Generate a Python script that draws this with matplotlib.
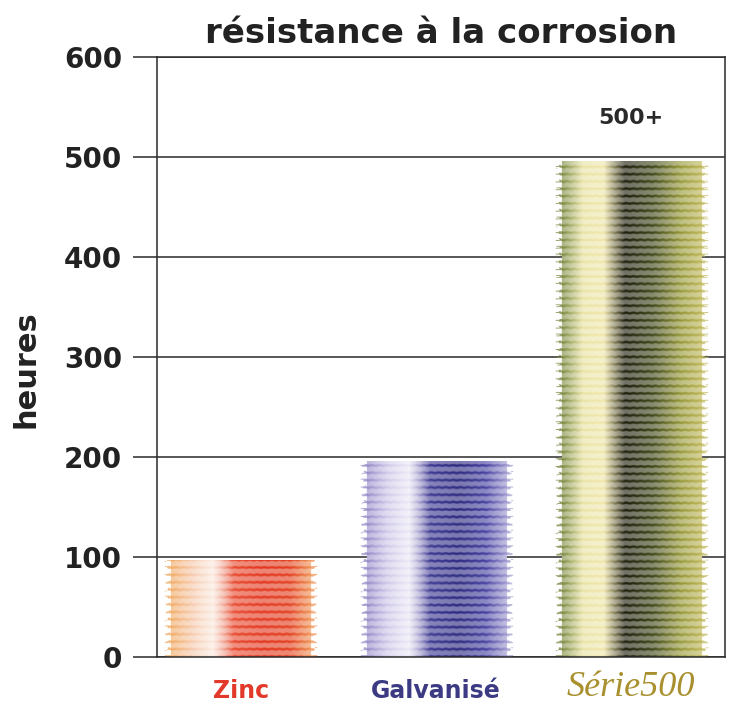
import numpy as np
import matplotlib.pyplot as plt
from matplotlib.colors import to_rgb

# Données
categories = ['Zinc', 'Galvanisé', 'Série500']
heures = [96, 195, 495]
annotation = '500+'
yticks = [0, 100, 200, 300, 400, 500, 600]

# Couleurs des étiquettes et dégradés des barres (style)
label_colors = ['#e2392b', '#3b3a82', '#a8902e']
gradients = [
    ['#f0a050', '#f4b890', '#f8dccc', '#e84a30', '#e3371f', '#e3401f', '#ee8a45'],
    ['#8070bc', '#bcb2e0', '#dcd6ee', '#3c3892', '#2a287e', '#4640a0', '#9088c8'],
    ['#6e7e30', '#e8e2a0', '#efe6a8', '#1a1a08', '#3e4618', '#969838', '#bcb450'],
]
stops = [0.0, 0.15, 0.3, 0.45, 0.65, 0.85, 1.0]
strength = [
    [0.9, 0.75, 0.6, 1.0, 1.0, 1.0, 0.9],
    [0.85, 0.7, 0.55, 1.0, 1.0, 1.0, 0.85],
    [0.95, 0.95, 0.95, 1.0, 1.0, 1.0, 0.95],
]

fig = plt.figure(figsize=(7.31, 7.06), dpi=100)
ax = fig.add_axes([0.2148, 0.0694, 0.777, 0.85])

x = np.arange(len(categories))
bars = ax.bar(x, heures, width=0.72, facecolor='none', edgecolor='none', zorder=2)


def texture(colors, strg, nrows, ncols, inner):
    # dégradé horizontal + rayures horizontales façon "fils", bords effilochés
    tx = np.linspace(-inner, 1 + inner, ncols)
    rgb = np.array([to_rgb(c) for c in colors])
    prof = np.stack([np.interp(tx, stops, rgb[:, k]) for k in range(3)], axis=1)
    s = np.interp(tx, stops, strg)
    yy = np.arange(nrows)[:, None]
    phase = 2 * np.pi * yy / 7.5 + 0.25 * np.sin(tx[None, :] * 120)
    stripe = np.clip(np.cos(phase), 0, 1)
    w = (0.62 + 0.38 * stripe) * s[None, :]
    img = np.ones((nrows, ncols, 4))
    img[..., :3] = np.ones((nrows, ncols, 3)) * (1 - w[..., None]) + prof[None] * w[..., None]
    # franges hors de la barre
    out = np.maximum(-tx, tx - 1)[None, :]
    reach = inner * (0.3 + 0.7 * (0.5 + 0.5 * np.sin(yy * 2.3)))
    fringe = (stripe > 0.4) & (out < reach)
    img[..., 3] = np.where(out <= 0, 1.0, np.where(fringe, 0.8, 0.0))
    return np.clip(img, 0, 1)


for bar, cols, strg in zip(bars, gradients, strength):
    x0, w, h = bar.get_x(), bar.get_width(), bar.get_height()
    inner = 0.045
    img = texture(cols, strg, int(h * 1.03), 200, inner)
    ax.imshow(img, extent=[x0 - inner * w, x0 + w * (1 + inner), 0, h], aspect='auto',
              origin='lower', zorder=2, interpolation='bilinear')

ax.text(x[2], heures[2] + 44, annotation, ha='center', va='center',
        fontsize=16, fontweight='bold', color='#2a2a2a')

ax.set_xlim(-0.43, 2.48)
ax.set_ylim(0, 600)
ax.set_yticks(yticks)
ax.set_yticklabels([str(v) for v in yticks], fontsize=20, fontweight='bold', color='#222222')
ax.tick_params(axis='y', length=17, width=1.1, color='#2a2a2a', pad=8)
ax.set_xticks(x)
ax.set_xticklabels(categories)
ax.tick_params(axis='x', length=0, pad=16)
for lab, c in zip(ax.get_xticklabels(), label_colors):
    lab.set_color(c)
    if lab.get_text() == 'Série500':
        lab.set_family('Liberation Serif')
        lab.set_style('italic')
        lab.set_fontsize(26)
        lab.set_y(0.014)
    else:
        lab.set_fontweight('bold')
        lab.set_fontsize(17)

ax.yaxis.grid(True, color='#2a2a2a', linewidth=1.1, zorder=0)
ax.set_axisbelow(True)
for sp in ax.spines.values():
    sp.set_color('#2a2a2a')
    sp.set_linewidth(1.1)

ax.set_ylabel('heures', fontsize=22, fontweight='bold', color='#222222')
ax.yaxis.set_label_coords(-0.205, 0.48)
ax.set_title('résistance à la corrosion', fontsize=24.5, fontweight='bold', color='#222222', pad=10)

fig.savefig('out.png', dpi=100)
